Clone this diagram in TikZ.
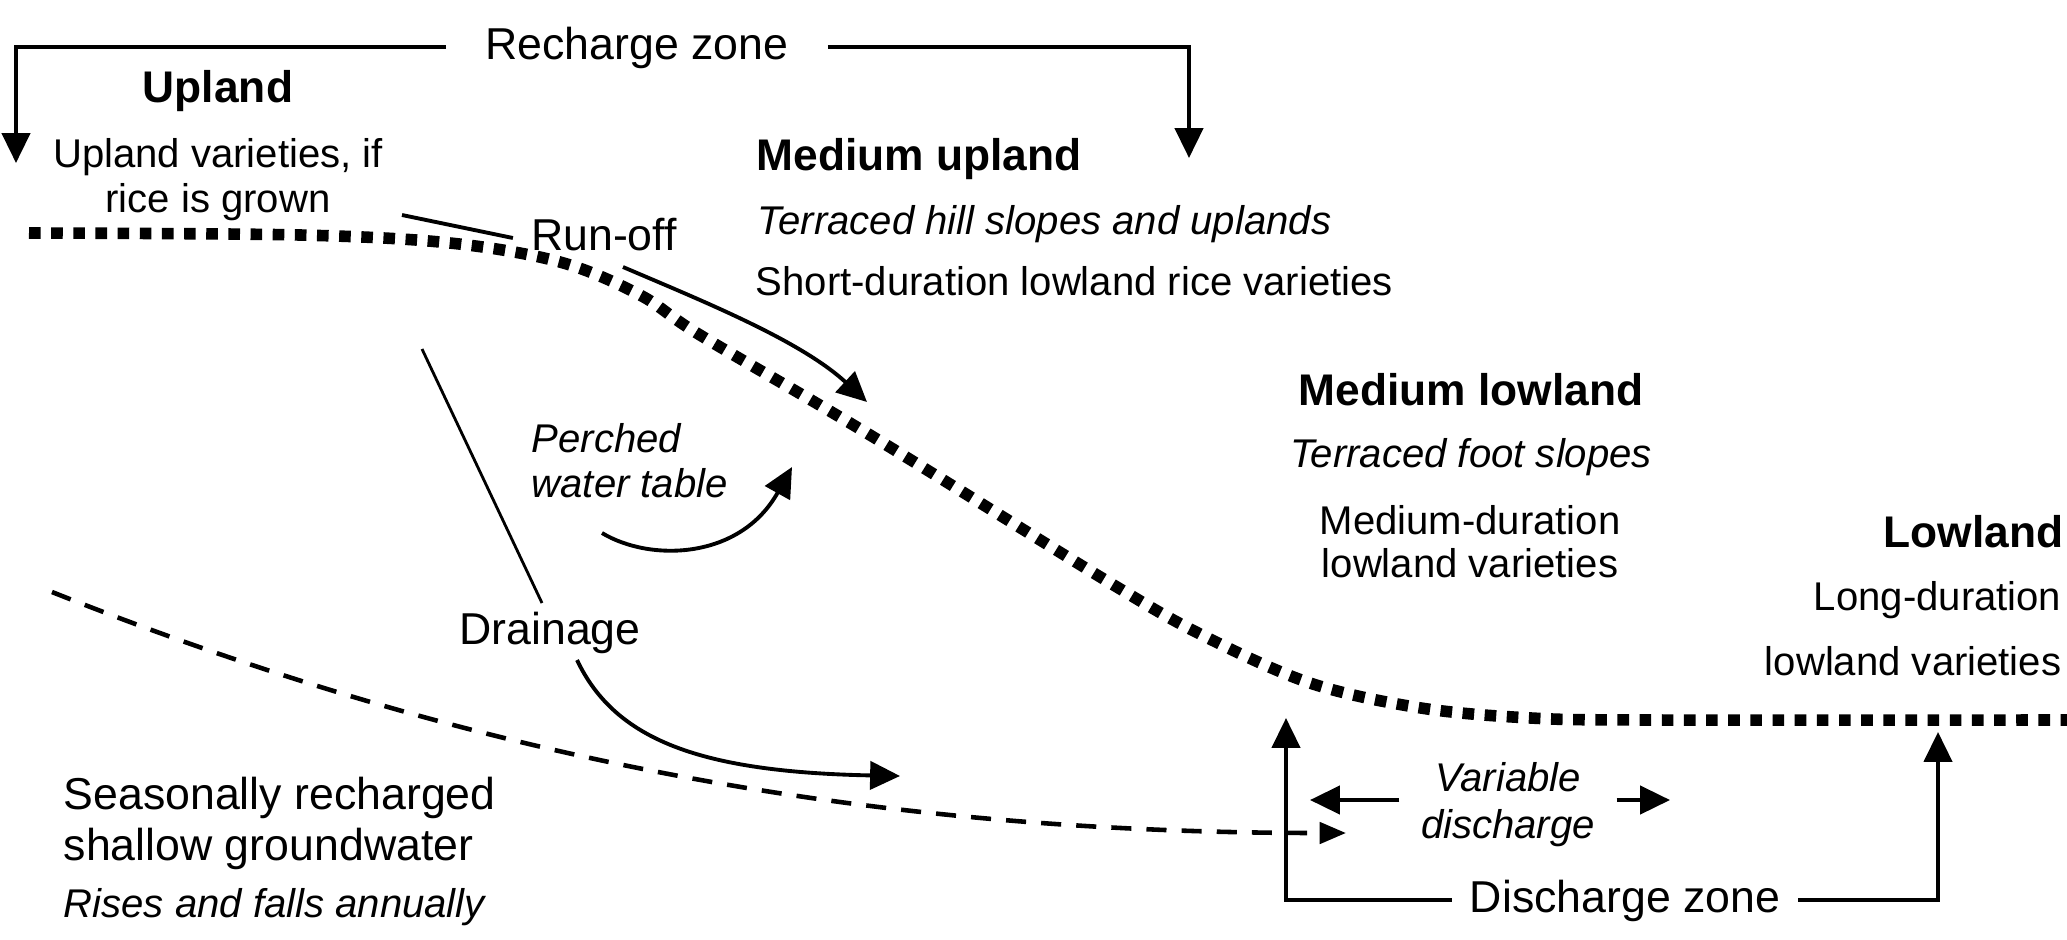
\documentclass[tikz,border=0pt]{standalone}
\usepackage{fontspec}
\setmainfont{Liberation Sans}
\usetikzlibrary{arrows.meta}
\begin{document}
\begin{tikzpicture}[x=0.01cm,y=-0.01cm,
  txt/.style={inner sep=0pt, text height=0.72em, text depth=0pt, font=\fontsize{11.4}{13}\selectfont},
  txti/.style={txt, font=\fontsize{11.4}{13}\selectfont\itshape},
  hd/.style={txt, font=\fontsize{12.6}{14}\selectfont\bfseries},
  lab/.style={txt, font=\fontsize{12.7}{14}\selectfont},
  ln/.style={line width=1.1pt},
  thinln/.style={line width=0.8pt},
  arr/.style={ln, -{Triangle[length=8.5pt,width=8pt]}},
  ground/.style={line width=3.3pt, dash pattern=on 3.3pt off 3pt},
  gw/.style={line width=1.3pt, dash pattern=on 5.7pt off 4.3pt}
]
\useasboundingbox (0,0) rectangle (2067,939);

% dotted ground surface
\draw[ground] plot[smooth, tension=0.55] coordinates {(29,233) (300,235) (450,243) (560,262) (640,295) (700,335) (870,435) (1102,578) (1200,634) (1310,683) (1421,708) (1531,718) (1650,720) (2067,720)};

% recharge zone
\node[lab, inner xsep=11pt] (rz) at (637,47) {Recharge zone};
\coordinate (rzL) at (16,163);
\coordinate (rzR) at (1189,158);
\draw[arr] (rz.west) -| (rzL);
\draw[arr] (rz.east) -| (rzR);

% upland
\node[hd] (up) at (218,90) {Upland};
\node[txt] (up1) at (218,155) {Upland varieties, if};
\node[txt] (up2) at (218,200) {rice is grown};

% medium upland
\node[hd, anchor=west] (mu) at (756,158) {Medium upland};
\node[txti, anchor=west] (mu1) at (757,222) {Terraced hill slopes and uplands};
\node[txt, anchor=west] (mu2) at (755,283) {Short-duration lowland rice varieties};

% medium lowland
\node[hd] (ml) at (1471,393) {Medium lowland};
\node[txti] (ml1) at (1471,455) {Terraced foot slopes};
\node[txt] (ml2) at (1470,522) {Medium-duration};
\node[txt] (ml3) at (1470,565) {lowland varieties};

% lowland
\node[hd, anchor=east] (lo) at (2064,535) {Lowland};
\node[txt, anchor=east] (lo1) at (2062,598) {Long-duration};
\node[txt, anchor=east] (lo2) at (2062,663) {lowland varieties};

% run-off
\node[lab, inner xsep=5pt] (ro) at (604,238) {Run-off};
\coordinate (ro0) at (402,215);
\coordinate (ro1) at (623,267);
\coordinate (ro2) at (867,402);
\draw[ln] (ro0) -- (ro.west);
\draw[arr] (ro1) .. controls (700,300) and (800,340) .. (ro2);

% perched water table
\node[txti, anchor=west] (pe1) at (531,440) {Perched};
\node[txti, anchor=west] (pe2) at (531,485) {water table};
\coordinate (pa0) at (602,533);
\coordinate (pa1) at (792,467);
\draw[arr] (pa0) .. controls (650,562) and (740,560) .. (pa1);

% drainage
\node[lab] (dr) at (550,632) {Drainage};
\coordinate (dr0) at (422,349);
\coordinate (dr1) at (542,603);
\coordinate (dr2) at (577,660);
\coordinate (dr3) at (900,776);
\draw[thinln] (dr0) -- (dr1);
\draw[arr] (dr2) .. controls (615,740) and (700,772) .. (dr3);

% groundwater
\coordinate (gw0) at (52,592);
\coordinate (gw1) at (1346,833);
\draw[gw, -{Triangle[length=7.5pt,width=6pt]}] (gw0) .. controls (500,770) and (900,833) .. (gw1);
\node[lab, anchor=west] (sg1) at (63,797) {Seasonally recharged};
\node[lab, anchor=west] (sg2) at (63,848) {shallow groundwater};
\node[txti, anchor=west] (sg3) at (63,905) {Rises and falls annually};

% variable discharge
\node[inner xsep=6pt, inner ysep=0pt, align=center, font=\fontsize{11.4}{13.4}\selectfont\itshape] (vd) at (1508,805) {Variable\\discharge};
\coordinate (vdL) at (1310,800);
\coordinate (vdR) at (1670,800);
\draw[arr] (vd.west |- vdL) -- (vdL);
\draw[arr] (vd.east |- vdR) -- (vdR);

% discharge zone
\node[lab, inner xsep=5pt] (dz) at (1625,900) {Discharge zone};
\coordinate (dzL) at (1286,718);
\coordinate (dzR) at (1938,732);
\draw[arr] (dz.west) -| (dzL);
\draw[arr] (dz.east) -| (dzR);
\end{tikzpicture}
\end{document}
